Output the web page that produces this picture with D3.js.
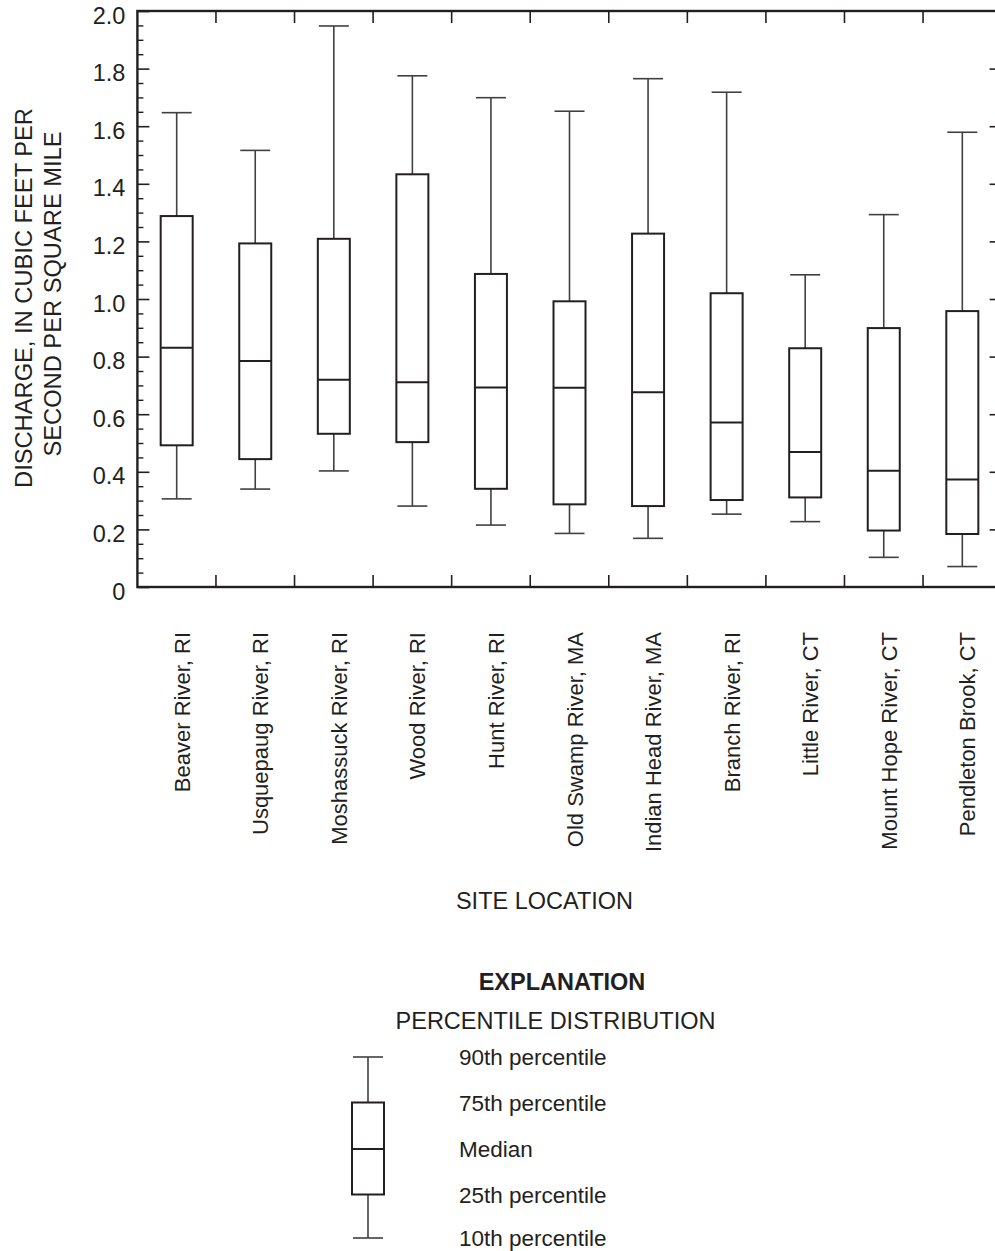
<!DOCTYPE html>
<html>
<head>
<meta charset="utf-8">
<script src="https://cdn.jsdelivr.net/npm/d3@7/dist/d3.min.js"></script>
<style>
  html, body { margin: 0; padding: 0; background: #fff; }
  svg { display: block; }
  text { font-family: "Liberation Sans", Arial, Helvetica, sans-serif; fill: #231f20; }
</style>
</head>
<body>
<svg id="chart" width="995" height="1251"></svg>
<script>
// ---- Data ----
const sites = ["Beaver River, RI", "Usquepaug River, RI", "Moshassuck River, RI", "Wood River, RI",
  "Hunt River, RI", "Old Swamp River, MA", "Indian Head River, MA", "Branch River, RI",
  "Little River, CT", "Mount Hope River, CT", "Pendleton Brook, CT"];
const p10 = [0.306, 0.340, 0.403, 0.281, 0.215, 0.186, 0.169, 0.253, 0.227, 0.103, 0.071];
const p25 = [0.492, 0.444, 0.532, 0.503, 0.341, 0.287, 0.281, 0.302, 0.311, 0.196, 0.184];
const p50 = [0.831, 0.785, 0.720, 0.711, 0.693, 0.692, 0.676, 0.571, 0.469, 0.404, 0.373];
const p75 = [1.288, 1.193, 1.209, 1.433, 1.087, 0.992, 1.227, 1.020, 0.829, 0.899, 0.958];
const p90 = [1.647, 1.516, 1.948, 1.775, 1.699, 1.652, 1.765, 1.718, 1.084, 1.293, 1.579];
const yTicks = [0, 0.2, 0.4, 0.6, 0.8, 1.0, 1.2, 1.4, 1.6, 1.8, 2.0];
const yTickLabels = ["0", "0.2", "0.4", "0.6", "0.8", "1.0", "1.2", "1.4", "1.6", "1.8", "2.0"];
const legendLevels = [10, 25, 50, 75, 90];
const legendLabels = ["10th percentile", "25th percentile", "Median", "75th percentile", "90th percentile"];

// ---- Layout ----
const svg = d3.select("#chart");
const L = 137.4, R = 1001.6, T = 11, B = 587;
const x = d3.scaleBand().domain(sites).range([L, R]).paddingInner(0).paddingOuter(0);
const y = d3.scaleLinear().domain([0, 2]).range([B, T]);
const boxW = 32, capW = 30;
const dark = "#231f20", whisk = "#404040";

const data = sites.map((s, i) => ({ site: s, p10: p10[i], p25: p25[i], p50: p50[i], p75: p75[i], p90: p90[i] }));

// ---- Axes ----
const minorTicks = d3.range(0, 2.0001, 0.05).filter(v => Math.abs(v * 5 - Math.round(v * 5)) > 1e-6);

const leftAxis = d3.axisLeft(y).tickValues(yTicks).tickSize(-12).tickFormat((d, i) => yTickLabels[i]).tickPadding(0);
const gL = svg.append("g").attr("transform", `translate(${L},0)`).call(leftAxis);
gL.select(".domain").remove();
gL.selectAll(".tick line").attr("stroke", dark).attr("stroke-width", 1.6);
gL.selectAll(".tick text").attr("x", -12).attr("y", 0).attr("dy", 4)
  .attr("dominant-baseline", "central").attr("font-size", 23.5)
  .attr("font-family", '"Liberation Sans", Arial, sans-serif').attr("fill", dark);

const gLm = svg.append("g").attr("transform", `translate(${L},0)`)
  .call(d3.axisLeft(y).tickValues(minorTicks).tickSize(-6).tickFormat(""));
gLm.select(".domain").remove();
gLm.selectAll(".tick line").attr("stroke", dark).attr("stroke-width", 1.4);

const gR = svg.append("g").attr("transform", `translate(${R},0)`)
  .call(d3.axisRight(y).tickValues(yTicks.filter(v => v > 0 && v < 2)).tickSize(-12).tickFormat(""));
gR.select(".domain").remove();
gR.selectAll(".tick line").attr("stroke", dark).attr("stroke-width", 1.6);

const bounds = sites.slice(1).map(s => x(s));
const gT = svg.append("g");
gT.selectAll("line.tt").data(bounds).join("line").attr("class", "tt")
  .attr("x1", d => d).attr("x2", d => d).attr("y1", T).attr("y2", T + 12)
  .attr("stroke", dark).attr("stroke-width", 1.6);
gT.selectAll("line.bt").data(bounds).join("line").attr("class", "bt")
  .attr("x1", d => d).attr("x2", d => d).attr("y1", B).attr("y2", B - 12)
  .attr("stroke", dark).attr("stroke-width", 1.6);

svg.append("rect").attr("x", L).attr("y", T).attr("width", R - L).attr("height", B - T)
  .attr("fill", "none").attr("stroke", dark).attr("stroke-width", 2.4);

// ---- Boxes ----
const cx = d => x(d.site) + x.bandwidth() / 2;
const g = svg.append("g").selectAll("g.box").data(data).join("g").attr("class", "box");
g.append("line").attr("x1", cx).attr("x2", cx)
  .attr("y1", d => y(d.p90)).attr("y2", d => y(d.p75)).attr("stroke", whisk).attr("stroke-width", 1.6);
g.append("line").attr("x1", cx).attr("x2", cx)
  .attr("y1", d => y(d.p25)).attr("y2", d => y(d.p10)).attr("stroke", whisk).attr("stroke-width", 1.6);
g.append("line").attr("x1", d => cx(d) - capW / 2).attr("x2", d => cx(d) + capW / 2)
  .attr("y1", d => y(d.p90)).attr("y2", d => y(d.p90)).attr("stroke", whisk).attr("stroke-width", 1.6);
g.append("line").attr("x1", d => cx(d) - capW / 2).attr("x2", d => cx(d) + capW / 2)
  .attr("y1", d => y(d.p10)).attr("y2", d => y(d.p10)).attr("stroke", whisk).attr("stroke-width", 1.6);
g.append("rect").attr("x", d => cx(d) - boxW / 2).attr("width", boxW)
  .attr("y", d => y(d.p75)).attr("height", d => y(d.p25) - y(d.p75))
  .attr("fill", "#fff").attr("stroke", dark).attr("stroke-width", 2);
g.append("line").attr("x1", d => cx(d) - boxW / 2).attr("x2", d => cx(d) + boxW / 2)
  .attr("y1", d => y(d.p50)).attr("y2", d => y(d.p50)).attr("stroke", dark).attr("stroke-width", 2);

// ---- Category labels ----
svg.append("g").selectAll("text").data(sites).join("text")
  .attr("transform", d => `translate(${x(d) + x.bandwidth() / 2 + 13},632) rotate(-90)`)
  .attr("text-anchor", "end").attr("font-size", 22).text(d => d);

// ---- Axis titles ----
svg.append("text").attr("transform", "translate(32,298) rotate(-90)").attr("text-anchor", "middle")
  .attr("font-size", 23.7).text("DISCHARGE, IN CUBIC FEET PER");
svg.append("text").attr("transform", "translate(61,294) rotate(-90)").attr("text-anchor", "middle")
  .attr("font-size", 23.7).text("SECOND PER SQUARE MILE");
svg.append("text").attr("x", 544.5).attr("y", 909).attr("text-anchor", "middle")
  .attr("font-size", 23.5).text("SITE LOCATION");

// ---- Explanation ----
svg.append("text").attr("x", 562).attr("y", 990).attr("text-anchor", "middle")
  .attr("font-size", 23.5).attr("font-weight", "bold").text("EXPLANATION");
svg.append("text").attr("x", 555.5).attr("y", 1029).attr("text-anchor", "middle")
  .attr("font-size", 23.5).text("PERCENTILE DISTRIBUTION");

const lyPos = { 10: 1238, 25: 1194.5, 50: 1149, 75: 1102.5, 90: 1057 };
const lcx = 368;
const lg = svg.append("g");
lg.append("line").attr("x1", lcx).attr("x2", lcx).attr("y1", lyPos[90]).attr("y2", lyPos[75]).attr("stroke", whisk).attr("stroke-width", 1.6);
lg.append("line").attr("x1", lcx).attr("x2", lcx).attr("y1", lyPos[25]).attr("y2", lyPos[10]).attr("stroke", whisk).attr("stroke-width", 1.6);
lg.append("line").attr("x1", lcx - capW / 2).attr("x2", lcx + capW / 2).attr("y1", lyPos[90]).attr("y2", lyPos[90]).attr("stroke", whisk).attr("stroke-width", 1.6);
lg.append("line").attr("x1", lcx - capW / 2).attr("x2", lcx + capW / 2).attr("y1", lyPos[10]).attr("y2", lyPos[10]).attr("stroke", whisk).attr("stroke-width", 1.6);
lg.append("rect").attr("x", lcx - boxW / 2).attr("width", boxW).attr("y", lyPos[75]).attr("height", lyPos[25] - lyPos[75])
  .attr("fill", "#fff").attr("stroke", dark).attr("stroke-width", 2);
lg.append("line").attr("x1", lcx - boxW / 2).attr("x2", lcx + boxW / 2).attr("y1", lyPos[50]).attr("y2", lyPos[50]).attr("stroke", dark).attr("stroke-width", 2);
lg.selectAll("text").data(legendLevels).join("text")
  .attr("x", 459).attr("y", d => lyPos[d] + 8).attr("font-size", 22.5)
  .text((d, i) => legendLabels[i]);
</script>
</body>
</html>
